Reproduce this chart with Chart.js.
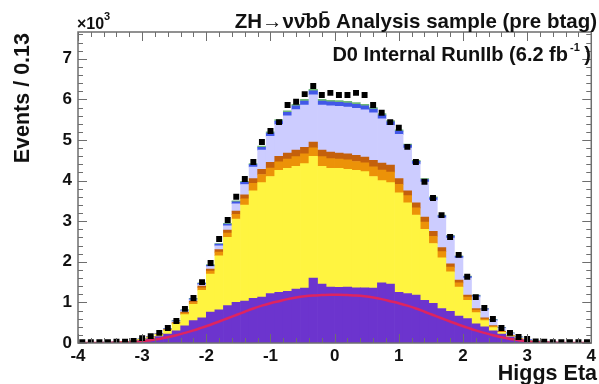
<!DOCTYPE html>
<html><head><meta charset="utf-8">
<script src="https://cdn.jsdelivr.net/npm/chart.js@4/dist/chart.umd.min.js"></script>
<style>html,body{margin:0;padding:0;background:#fff}#wrap{width:599px;height:384px}</style>
</head><body><div id="wrap"><canvas id="c" width="599" height="384"></canvas></div>
<script>
// Binning: Higgs Eta from -4 to 4, 60 bins (0.13 wide)
const etaMin = -4, etaMax = 4, nBins = 60;
const binCenters = Array.from({length: nBins}, (_, i) => etaMin + (i + 0.5) * (etaMax - etaMin) / nBins);
const xTicks = [-4, -3, -2, -1, 0, 1, 2, 3, 4];
const yTicks = [0, 1, 2, 3, 4, 5, 6, 7];

// Values in units of 10^3 events
const purple = [0.005,0.006,0.008,0.01,0.013,0.02,0.035,0.06,0.1,0.16,
  0.22,0.3,0.42,0.55,0.62,0.76,0.82,0.92,1.0,1.03,
  1.1,1.13,1.22,1.25,1.27,1.33,1.35,1.6,1.45,1.38,
  1.37,1.38,1.36,1.36,1.35,1.48,1.45,1.25,1.22,1.18,
  1.05,0.98,0.85,0.78,0.66,0.6,0.47,0.4,0.3,0.22,
  0.15,0.09,0.055,0.03,0.015,0.01,0.008,0.006,0.005,0.004];
const yellow = [0.003,0.003,0.004,0.005,0.005,0.008,0.01,0.025,0.035,0.05,
  0.09,0.17,0.28,0.4,0.68,0.94,1.33,1.68,2.05,2.37,
  2.65,2.82,2.88,3.0,3.03,3.02,3.07,3.0,2.9,2.92,
  2.93,2.9,2.89,2.86,2.75,2.52,2.5,2.45,2.23,1.97,
  1.75,1.47,1.25,0.97,0.72,0.45,0.28,0.15,0.08,0.04,
  0.02,0.01,0.007,0.004,0.003,0.002,0.002,0.002,0.002,0.002];
const orange = [0.001,0.001,0.001,0.001,0.001,0.001,0.002,0.003,0.005,0.006,
  0.012,0.018,0.036,0.048,0.06,0.072,0.09,0.108,0.12,0.15,
  0.18,0.2,0.21,0.21,0.23,0.24,0.24,0.21,0.24,0.24,
  0.23,0.23,0.22,0.22,0.24,0.26,0.26,0.21,0.18,0.18,
  0.18,0.18,0.15,0.12,0.1,0.08,0.06,0.04,0.03,0.018,
  0.012,0.006,0.003,0.002,0.001,0.001,0.001,0.001,0.001,0.001];
const brown = [0.001,0.001,0.001,0.001,0.001,0.001,0.001,0.002,0.003,0.004,
  0.008,0.012,0.024,0.032,0.04,0.048,0.06,0.072,0.08,0.1,
  0.12,0.13,0.14,0.14,0.15,0.16,0.16,0.14,0.16,0.16,
  0.15,0.15,0.15,0.14,0.16,0.17,0.17,0.14,0.12,0.12,
  0.12,0.12,0.1,0.08,0.07,0.05,0.04,0.03,0.02,0.012,
  0.008,0.004,0.002,0.001,0.001,0.001,0.001,0.001,0.001,0.001];
const lavender = [0.002,0.002,0.002,0.002,0.002,0.002,0.002,0.003,0.007,0.008,
  0.013,0.029,0.032,0.035,0.038,0.061,0.094,0.107,0.18,0.253,
  0.285,0.472,0.638,0.781,0.914,0.997,1.04,1.16,1.11,1.14,
  1.15,1.15,1.16,1.16,1.167,1.094,0.981,1.088,1.052,0.959,
  0.866,0.773,0.73,0.637,0.544,0.421,0.288,0.195,0.122,0.069,
  0.043,0.026,0.014,0.007,0.005,0.003,0.003,0.003,0.003,0.003];
const blue = [0.002,0.002,0.002,0.002,0.002,0.003,0.004,0.006,0.008,0.01,
  0.012,0.015,0.02,0.025,0.03,0.035,0.04,0.045,0.05,0.055,
  0.06,0.07,0.08,0.085,0.09,0.095,0.1,0.1,0.1,0.1,
  0.1,0.1,0.1,0.1,0.095,0.09,0.085,0.08,0.07,0.065,
  0.06,0.055,0.05,0.045,0.04,0.035,0.03,0.025,0.02,0.015,
  0.012,0.01,0.008,0.006,0.004,0.003,0.002,0.002,0.002,0.002];
const green = [0.001,0.001,0.001,0.001,0.001,0.001,0.001,0.001,0.001,0.001,
  0.005,0.006,0.008,0.01,0.012,0.014,0.016,0.018,0.02,0.022,
  0.025,0.028,0.032,0.034,0.036,0.038,0.04,0.04,0.04,0.04,
  0.04,0.04,0.04,0.04,0.038,0.036,0.034,0.032,0.028,0.026,
  0.024,0.022,0.02,0.018,0.016,0.014,0.012,0.01,0.008,0.006,
  0.005,0.004,0.003,0.002,0.001,0.001,0.001,0.001,0.001,0.001];
const signal = [0,0,0,0,0.005,0.01,0.02,0.04,0.07,0.1,
  0.14,0.19,0.25,0.31,0.38,0.45,0.53,0.61,0.69,0.77,
  0.85,0.92,0.98,1.03,1.08,1.12,1.15,1.17,1.18,1.19,
  1.19,1.18,1.17,1.15,1.12,1.08,1.03,0.98,0.92,0.85,
  0.77,0.69,0.61,0.53,0.45,0.38,0.31,0.25,0.19,0.14,
  0.1,0.07,0.04,0.02,0.01,0.005,0,0,0,0];
const dataPts = [0.02,0.02,0.02,0.02,0.03,0.03,0.05,0.12,0.17,0.25,
  0.37,0.54,0.84,1.11,1.5,1.97,2.56,3.03,3.6,4.04,
  4.46,4.95,5.22,5.44,5.86,5.94,6.13,6.33,6.11,6.16,
  6.11,6.11,6.16,6.11,5.86,5.67,5.44,5.3,4.83,4.46,
  3.97,3.57,3.15,2.61,2.17,1.63,1.13,0.86,0.59,0.37,
  0.25,0.15,0.1,0.04,0.03,0.02,0.02,0.02,0.02,0.02];

const xy = arr => arr.map((v, i) => ({x: binCenters[i], y: v}));
const bar = (arr, color) => ({type: 'bar', data: xy(arr), backgroundColor: color, borderWidth: 0,
  stack: 'mc', order: 5, barPercentage: 1.0, categoryPercentage: 1.0});

const FONT = '"Liberation Sans", Arial, sans-serif';

const frame = {
  id: 'frame',
  afterDraw(chart) {
    const {ctx, chartArea: a, scales: {x, y}} = chart;
    ctx.save();
    ctx.strokeStyle = '#6e6e6e';
    ctx.lineWidth = 1.5;
    ctx.strokeRect(a.left, a.top, a.right - a.left, a.bottom - a.top);
    ctx.lineWidth = 1;
    for (let k = -40; k <= 40; k += 2) {
      const v = k / 10;
      const px = Math.round(x.getPixelForValue(v)) + 0.5;
      const len = (k % 10 === 0) ? 9 : 5;
      ctx.beginPath();
      ctx.moveTo(px, a.top); ctx.lineTo(px, a.top + len);
      ctx.moveTo(px, a.bottom); ctx.lineTo(px, a.bottom - len);
      ctx.stroke();
    }
    for (let k = 0; k <= 76; k += 2) {
      const v = k / 10;
      const py = Math.round(y.getPixelForValue(v)) + 0.5;
      const len = (k % 10 === 0) ? 9 : 5;
      ctx.beginPath();
      ctx.moveTo(a.left, py); ctx.lineTo(a.left + len, py);
      ctx.moveTo(a.right, py); ctx.lineTo(a.right - len, py);
      ctx.stroke();
    }
    ctx.fillStyle = '#111';
    ctx.textBaseline = 'alphabetic';
    ctx.font = 'bold 20.5px ' + FONT;
    ctx.textAlign = 'right';
    ctx.fillText('ZH\u2192\u03BD\u03BD\u0304b\u0062\u0304 Analysis sample (pre btag)', 597, 28);
    ctx.font = 'bold 20px ' + FONT;
    ctx.fillText(')', 591, 61);
    ctx.fillText('D0 Internal RunIIb (6.2 fb', 568, 61);
    ctx.font = 'bold 11px ' + FONT;
    ctx.textAlign = 'left';
    ctx.fillText('-1', 570, 51);
    ctx.font = 'bold 21.5px ' + FONT;
    ctx.textAlign = 'right';
    ctx.fillText('Higgs Eta', 597, 380);
    ctx.textAlign = 'left';
    ctx.font = 'bold 16px ' + FONT;
    ctx.fillText('\u00D710', 77, 29);
    ctx.font = 'bold 11px ' + FONT;
    ctx.fillText('3', 104, 20);
    ctx.translate(23, 33);
    ctx.rotate(-Math.PI / 2);
    ctx.font = 'bold 21.5px ' + FONT;
    ctx.textAlign = 'right';
    ctx.textBaseline = 'middle';
    ctx.fillText('Events / 0.13', 0, 0);
    ctx.restore();
  }
};

new Chart(document.getElementById('c'), {
  type: 'bar',
  data: {
    datasets: [
      {type: 'line', data: xy(dataPts), showLine: false, pointStyle: 'rect', pointRadius: 4.2,
        pointBackgroundColor: '#000', pointBorderColor: '#000', pointBorderWidth: 0, stack: 'data', order: 0},
      {type: 'line', data: xy(signal), borderColor: 'rgb(222,36,96)', borderWidth: 2.5, pointRadius: 0,
        fill: false, tension: 0.3, stack: 'sig', order: 1},
      bar(purple, 'rgb(108,52,206)'),
      bar(yellow, 'rgb(255,244,64)'),
      bar(orange, 'rgb(236,146,8)'),
      bar(brown, 'rgb(196,96,12)'),
      bar(lavender, 'rgb(204,204,255)'),
      bar(blue, 'rgb(66,88,232)'),
      bar(green, 'rgb(110,184,120)')
    ]
  },
  options: {
    responsive: false,
    animation: false,
    events: [],
    layout: {autoPadding: false, padding: {top: 32, right: 2, left: 0, bottom: 0}},
    plugins: {legend: {display: false}, tooltip: {enabled: false}, title: {display: false}},
    scales: {
      x: {type: 'linear', min: etaMin, max: etaMax, offset: false,
        grid: {display: false, drawTicks: false}, border: {display: false},
        ticks: {font: {family: FONT, size: 17, weight: 'bold'}, color: '#111', padding: 3, maxRotation: 0, autoSkip: false},
        afterBuildTicks: s => { s.ticks = xTicks.map(v => ({value: v})); },
        afterFit: s => { s.height = 41; }},
      y: {stacked: true, min: 0, max: 7.66,
        grid: {display: false, drawTicks: false}, border: {display: false},
        ticks: {font: {family: FONT, size: 17, weight: 'bold'}, color: '#111', padding: 6},
        afterBuildTicks: s => { s.ticks = yTicks.map(v => ({value: v})); },
        afterFit: s => { s.width = 78; }}
    }
  },
  plugins: [frame]
});
</script>
</body></html>
